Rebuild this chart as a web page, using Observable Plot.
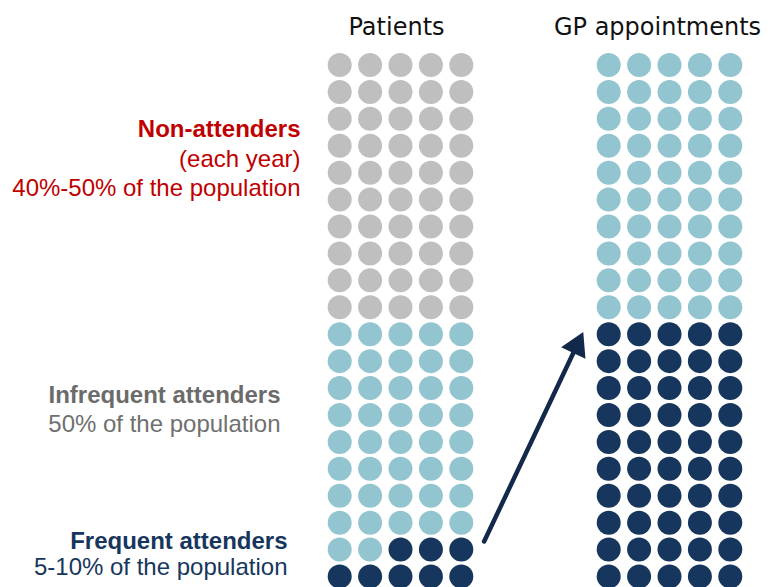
<!DOCTYPE html>
<html><head><meta charset="utf-8">
<script src="https://cdn.jsdelivr.net/npm/d3@7"></script>
<script src="https://cdn.jsdelivr.net/npm/@observablehq/plot@0.6"></script>
<style>body{margin:0;background:#fff;overflow:hidden}</style>
</head><body><div id="chart"></div>
<script>
// ---- data ----
const panels = ["Patients", "GP appointments"];
const groups = ["Non-attenders", "Infrequent attenders", "Frequent attenders"];
const patientCounts = [50, 42, 8];       // dots out of 100
const appointmentCounts = [0, 50, 50];   // dots out of 100
const groupNotes = ["(each year)\n40%-50% of the population", "50% of the population", "5-10% of the population"];
const columnsPerRow = 5;

// ---- build cells (row-major fill) ----
const cells = [];
[patientCounts, appointmentCounts].forEach((counts, p) => {
  let i = 0;
  counts.forEach((n, g) => {
    for (let k = 0; k < n; k++, i++) {
      cells.push({panel: panels[p], group: groups[g], col: i % columnsPerRow, row: Math.floor(i / columnsPerRow)});
    }
  });
});

const dotColors = ["#bfbfbf", "#92c5cf", "#17365d"];
const titleColors = ["#c00000", "#6b6b6b", "#17365d"];
const noteColors = ["#c00000", "#707070", "#17365d"];
// layout (row units / pixel offsets) for the side labels
const labelLayout = [
  {titleY: 2.69, noteY: 4.85, dx: -24},
  {titleY: 12.54, noteY: 13.65, dx: -44},
  {titleY: 17.96, noteY: 18.96, dx: -37}
];

const labelMarks = [];
groups.forEach((g, i) => {
  const L = labelLayout[i];
  labelMarks.push(Plot.text([{panel: panels[0], t: g}], {
    fx: "panel", x: () => -0.5, y: () => L.titleY, text: "t", dx: L.dx,
    textAnchor: "end", lineAnchor: "bottom", fontSize: 24, fontWeight: "bold", fill: titleColors[i]
  }));
  labelMarks.push(Plot.text([{panel: panels[0], t: groupNotes[i]}], {
    fx: "panel", x: () => -0.5, y: () => L.noteY, text: "t", dx: L.dx,
    textAnchor: "end", lineAnchor: "bottom", lineHeight: 1.2, fontSize: 24, fill: noteColors[i]
  }));
});

// arrow: from the frequent attenders to their share of appointments
const arrowFrom = {x: 4.75, y: 17.7};
const arrowTo = {x: 7.99, y: 9.97};
const pxPerCol = 30.4, pxPerRow = 26.92, headBack = 14;
const vx = (arrowTo.x - arrowFrom.x) * pxPerCol, vy = (arrowTo.y - arrowFrom.y) * pxPerRow;
const vlen = Math.hypot(vx, vy);
const head = {
  panel: panels[0],
  x: arrowTo.x - headBack * vx / vlen / pxPerCol,
  y: arrowTo.y - headBack * vy / vlen / pxPerRow,
  angle: Math.atan2(vx, -vy) * 180 / Math.PI
};
const shaft = [{panel: panels[0], x1: arrowFrom.x, y1: arrowFrom.y, x2: head.x, y2: head.y}];

const chart = Plot.plot({
  width: 775,
  height: 587,
  marginLeft: 323.8,
  marginRight: 30.2,
  marginTop: 64.5,
  marginBottom: 11,
  style: {fontFamily: "'Liberation Sans', Arial, sans-serif", background: "#fff", overflow: "visible"},
  fx: {domain: panels, paddingInner: 0.435, paddingOuter: 0, axis: null},
  x: {domain: [-0.5, 4.5], axis: null},
  y: {domain: [0, 19], reverse: true, axis: null},
  color: {domain: groups, range: dotColors},
  marks: [
    Plot.axisFx({ticks: [panels[0]], anchor: "top", tickSize: 0, tickPadding: 30, dx: -4, fontSize: 24, fontFamily: "'DejaVu Sans', sans-serif", fill: "#111", label: null}),
    Plot.axisFx({ticks: [panels[1]], anchor: "top", tickSize: 0, tickPadding: 30, dx: -12, fontSize: 24, fontFamily: "'DejaVu Sans', sans-serif", fill: "#111", label: null}),
    Plot.dot(cells, {fx: "panel", x: "col", y: "row", r: 12, fill: "group", stroke: null}),
    ...labelMarks,
    Plot.link(shaft, {fx: "panel", x1: "x1", y1: "y1", x2: "x2", y2: "y2", stroke: "#13294b", strokeWidth: 4.5, strokeLinecap: "round"}),
    Plot.dot([head], {fx: "panel", x: "x", y: "y", symbol: "triangle", r: 10, rotate: head.angle, fill: "#13294b", stroke: null})
  ]
});
document.getElementById("chart").appendChild(chart);
</script>
</body></html>
